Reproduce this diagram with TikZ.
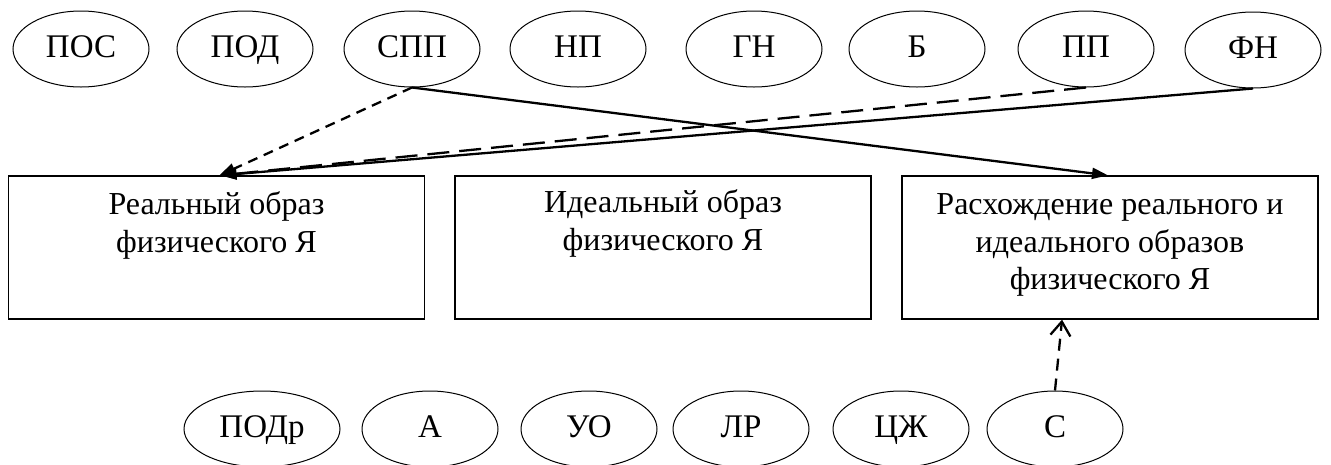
\documentclass[tikz,border=0pt]{standalone}
\usepackage{fontspec}
\setmainfont{Liberation Serif}
\usetikzlibrary{arrows.meta,shapes.geometric,calc}
\begin{document}
\begin{tikzpicture}[x=1pt,y=-1pt,
  oval/.style={ellipse,draw,line width=1pt,minimum width=136pt,minimum height=76pt,inner sep=0pt,text height=22pt,text depth=6pt,font=\fontsize{33}{38}\selectfont},
  box/.style={draw,line width=1.3pt,minimum width=416pt,minimum height=143pt,inner sep=0pt},
  boxtext/.style={anchor=north,align=center,inner sep=0pt,font=\fontsize{32}{37.5}\selectfont},
  arr/.style={line width=2.3pt,-{Triangle[length=16pt,width=11pt]}},
  openarr/.style={line width=2.3pt,-{Straight Barb[length=14pt,width=20pt]}}
]
\useasboundingbox (0,0) rectangle (1331,464);
% top ovals
\node[oval] (pos) at (81,49) {ПОС};
\node[oval] (pod) at (245,49) {ПОД};
\node[oval] (spp) at (412,49) {СПП};
\node[oval] (np) at (578,49) {НП};
\node[oval] (gn) at (754,49) {ГН};
\node[oval] (b) at (917,49) {Б};
\node[oval] (pp) at (1086,49) {ПП};
\node[oval] (fn) at (1253,50) {ФН};
% boxes
\node[box] (b1) at (216.5,247.5) {};
\node[box] (b2) at (663,247.5) {};
\node[box] (b3) at (1110,247.5) {};
\node[boxtext] (t1) at ($(b1.north)+(0,11)$) {\rule{0pt}{28pt}Реальный образ\\физического Я};
\node[boxtext] (t2) at ($(b2.north)+(0,9)$) {\rule{0pt}{28pt}Идеальный образ\\физического Я};
\node[boxtext] (t3) at ($(b3.north)+(0,11)$) {\rule{0pt}{28pt}Расхождение реального и\\идеального образов\\физического Я};
% bottom ovals
\node[oval,minimum width=156pt] (podr) at (262,429) {ПОДр};
\node[oval] (a) at (430,429) {А};
\node[oval] (uo) at (589,429) {УО};
\node[oval] (lr) at (741,429) {ЛР};
\node[oval] (czh) at (901,429) {ЦЖ};
\node[oval] (s) at (1055,429) {С};
% connectors
\draw[arr,dash pattern=on 10pt off 7pt] (spp.south) -- ($(b1.north)+(3,0)$);
\draw[arr] (spp.south) -- ($(b3.north)+(-2,0)$);
\draw[arr,dash pattern=on 22pt off 10pt] (pp.south) -- ($(b1.north)+(4,0)$);
\draw[arr] (fn.south) -- ($(b1.north)+(4,0)$);
\draw[openarr,dash pattern=on 12pt off 8pt] (s.north) -- ($(b3.south west)!0.385!(b3.south east)$);
\end{tikzpicture}
\end{document}
